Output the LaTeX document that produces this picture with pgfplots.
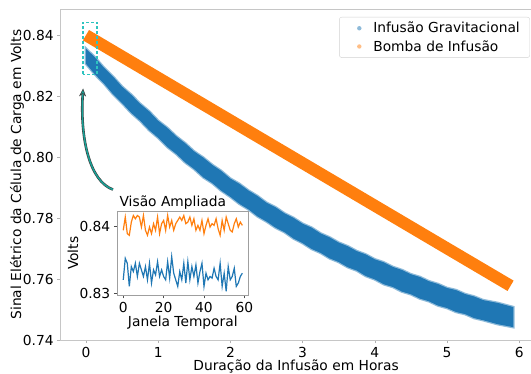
\documentclass[border=0pt]{standalone}
\usepackage{fontspec}
\setmainfont{DejaVu Sans}
\usepackage{pgfplots}
\pgfplotsset{compat=1.18}
\usetikzlibrary{arrows.meta}
\definecolor{c1}{HTML}{1F77B4}
\definecolor{c2}{HTML}{FF7F0E}
\definecolor{boxc}{HTML}{2EC4C0}
\definecolor{arrowc}{HTML}{17A398}
\begin{document}
\begin{tikzpicture}[font=\fontsize{13.8}{16}\selectfont]
\begin{axis}[
  name=main, scale only axis, width=470.8pt, height=331pt,
  at={(0pt,0pt)}, anchor=south west,
  xmin=-0.35, xmax=6.17, ymin=0.74, ymax=0.8487,
  xtick={0,1,2,3,4,5,6}, ytick={0.74,0.76,0.78,0.80,0.82,0.84},
  yticklabel style={/pgf/number format/.cd, fixed, fixed zerofill, precision=2},
  /pgf/number format/assume math mode=true,
  axis line style={draw=gray!45},
  tick style={draw=gray!60, line width=0.6pt},
  major tick length=3.5pt, tick align=outside,
  xtick pos=bottom, ytick pos=left,
  xlabel={Duração da Infusão em Horas},
  ylabel={Sinal Elétrico da Célula de Carga em Volts},
  xlabel style={at={(axis description cs:0.5,0)}, anchor=base, yshift=-30.5pt},
  ylabel style={at={(axis description cs:-0.0928,0.5)}, anchor=center},
  legend style={at={(0.9968,0.976)}, anchor=north east, draw=gray!35, rounded corners=2.5pt,
    inner xsep=8pt, inner ysep=3pt, row sep=2pt, font=\fontsize{13.8}{16}\selectfont},
  legend cell align=left,
]
\addplot[fill=c1, draw=c1, draw opacity=0.5, line width=2.5pt,
  legend image code/.code={\path[draw=none,fill=none] (0pt,0pt) -- (24pt,0pt); \fill[draw=none, fill=c1, fill opacity=0.5] (12pt,0pt) circle (2.2pt);}]
coordinates {
(0.00,0.8357) (0.125,0.8328) (0.25,0.8294) (0.375,0.8265) (0.50,0.8232) (0.625,0.8206) (0.75,0.8176) (0.875,0.8151) (1.00,0.8120) (1.125,0.8097) (1.25,0.8069)
(1.375,0.8046) (1.50,0.8019) (1.625,0.7999) (1.75,0.7975) (1.875,0.7955) (2.00,0.7930) (2.125,0.7913) (2.25,0.7891) (2.375,0.7873) (2.50,0.7851) (2.625,0.7836) (2.75,0.7816)
(2.875,0.7801) (3.00,0.7782) (3.125,0.7769) (3.25,0.7750) (3.375,0.7737) (3.50,0.7720) (3.625,0.7708) (3.75,0.7692) (3.875,0.7681) (4.00,0.7665) (4.125,0.7655) (4.25,0.7640)
(4.375,0.7630) (4.50,0.7616) (4.625,0.7607) (4.75,0.7593) (4.875,0.7584) (5.00,0.7571) (5.125,0.7564) (5.25,0.7551) (5.375,0.7543) (5.50,0.7531) (5.70,0.7522) (5.92,0.7508)
(5.92,0.7442) (5.70,0.7452) (5.50,0.7465) (5.375,0.7472) (5.25,0.7485) (5.125,0.7492) (5.00,0.7505) (4.875,0.7513) (4.75,0.7527) (4.625,0.7536) (4.50,0.7550)
(4.375,0.7559) (4.25,0.7574) (4.125,0.7583) (4.00,0.7599) (3.875,0.7610) (3.75,0.7628) (3.625,0.7639) (3.50,0.7656) (3.375,0.7668) (3.25,0.7686) (3.125,0.7699) (3.00,0.7718)
(2.875,0.7733) (2.75,0.7754) (2.625,0.7769) (2.50,0.7789) (2.375,0.7806) (2.25,0.7829) (2.125,0.7847) (2.00,0.7870) (1.875,0.7890) (1.75,0.7915) (1.625,0.7934) (1.50,0.7961)
(1.375,0.7983) (1.25,0.8011) (1.125,0.8034) (1.00,0.8064) (0.875,0.8089) (0.75,0.8120) (0.625,0.8146) (0.50,0.8178) (0.375,0.8207) (0.25,0.8242) (0.125,0.8272) (0.00,0.8307)
} -- cycle;
\addlegendentry{Infusão Gravitacional}
\addplot[c2, line width=12pt,
  legend image code/.code={\path[draw=none,fill=none] (0pt,0pt) -- (24pt,0pt); \fill[draw=none, fill=c2, fill opacity=0.5] (12pt,0pt) circle (2.2pt);}]
coordinates {(0,0.8401) (1,0.8261) (2,0.8121) (3,0.7981) (4,0.7841) (5,0.7701) (5.88,0.7578)};
\addlegendentry{Bomba de Infusão}
\draw[boxc, line width=1.2pt, dash pattern=on 3pt off 2pt] (axis cs:-0.04,0.8272) rectangle (axis cs:0.152,0.8443);
\draw[black!75, line width=2.6pt, shorten >=6pt] (axis cs:0.374,0.7894) .. controls (axis cs:0.055,0.7921) and (axis cs:-0.083,0.8058) .. (axis cs:-0.04,0.8226);
\draw[arrowc, line width=1.4pt, -{Stealth[length=8pt, width=7pt, fill=arrowc, color=black!75, line width=0.6pt]}] (axis cs:0.374,0.7894) .. controls (axis cs:0.055,0.7921) and (axis cs:-0.083,0.8058) .. (axis cs:-0.04,0.8226);
\end{axis}
\begin{axis}[
  at={(56.6pt,45pt)}, anchor=south west, scale only axis, width=131pt, height=83.3pt,
  xmin=-2.95, xmax=61.95, ymin=0.8297, ymax=0.8422,
  xtick={0,20,40,60}, ytick={0.83,0.84},
  yticklabel style={/pgf/number format/.cd, fixed, fixed zerofill, precision=2},
  /pgf/number format/assume math mode=true,
  axis background/.style={fill=white},
  axis line style={draw=gray!75},
  tick style={draw=black!70, line width=0.6pt},
  major tick length=3.5pt, tick align=outside, xtick pos=bottom, ytick pos=left,
  title={Visão Ampliada}, xlabel={Janela Temporal}, ylabel={Volts},
  title style={at={(0.5,1)}, anchor=base, yshift=-1pt, xshift=-10pt},
  xlabel style={at={(axis description cs:0.5,0)}, anchor=base, yshift=-31.7pt},
  ylabel style={at={(axis description cs:-0.338,0.5)}, anchor=center},
]
\addplot[c2, line width=1.2pt] coordinates {
(0,0.83941) (1,0.84139) (2,0.83891) (3,0.83866) (4,0.84064) (5,0.84163) (6,0.84114) (7,0.84163) (8,0.84139) (9,0.83990)
(10,0.84163) (11,0.83941) (12,0.83866) (13,0.83990) (14,0.83891) (15,0.84040) (16,0.83941) (17,0.84139) (18,0.83891) (19,0.84040)
(20,0.84089) (21,0.83941) (22,0.84163) (23,0.83990) (24,0.84089) (25,0.83941) (26,0.84040) (27,0.84089) (28,0.84139) (29,0.84089)
(30,0.84163) (31,0.84040) (32,0.84064) (33,0.84139) (34,0.84015) (35,0.84114) (36,0.83941) (37,0.84015) (38,0.83941) (39,0.84089)
(40,0.83891) (41,0.84015) (42,0.84114) (43,0.83990) (44,0.84040) (45,0.84015) (46,0.84114) (47,0.83965) (48,0.83866) (49,0.84089)
(50,0.83941) (51,0.84139) (52,0.84040) (53,0.83941) (54,0.83916) (55,0.84040) (56,0.84114) (57,0.83990) (58,0.84064) (59,0.84015)
};
\addplot[c1, line width=1.2pt] coordinates {
(0,0.83198) (1,0.83520) (2,0.83446) (3,0.83099) (4,0.83396) (5,0.83322) (6,0.83446) (7,0.83248) (8,0.83446) (9,0.83347)
(10,0.83248) (11,0.83396) (12,0.83198) (13,0.83446) (14,0.83149) (15,0.83347) (16,0.83272) (17,0.83470) (18,0.83248) (19,0.83347)
(20,0.83248) (21,0.83198) (22,0.83470) (23,0.83223) (24,0.83545) (25,0.83297) (26,0.83198) (27,0.83099) (28,0.83322) (29,0.83198)
(30,0.83446) (31,0.83149) (32,0.83470) (33,0.83198) (34,0.83396) (35,0.83248) (36,0.83421) (37,0.83149) (38,0.83322) (39,0.83446)
(40,0.83099) (41,0.83297) (42,0.83198) (43,0.83248) (44,0.83223) (45,0.83371) (46,0.83248) (47,0.83198) (48,0.83446) (49,0.83099)
(50,0.83297) (51,0.83025) (52,0.83396) (53,0.83198) (54,0.83248) (55,0.83371) (56,0.83099) (57,0.83149) (58,0.83248) (59,0.83297)
};
\end{axis}
\pgfresetboundingbox
\path (-60.7pt,-34pt) rectangle (470.3pt,340pt);
\end{tikzpicture}
\end{document}
